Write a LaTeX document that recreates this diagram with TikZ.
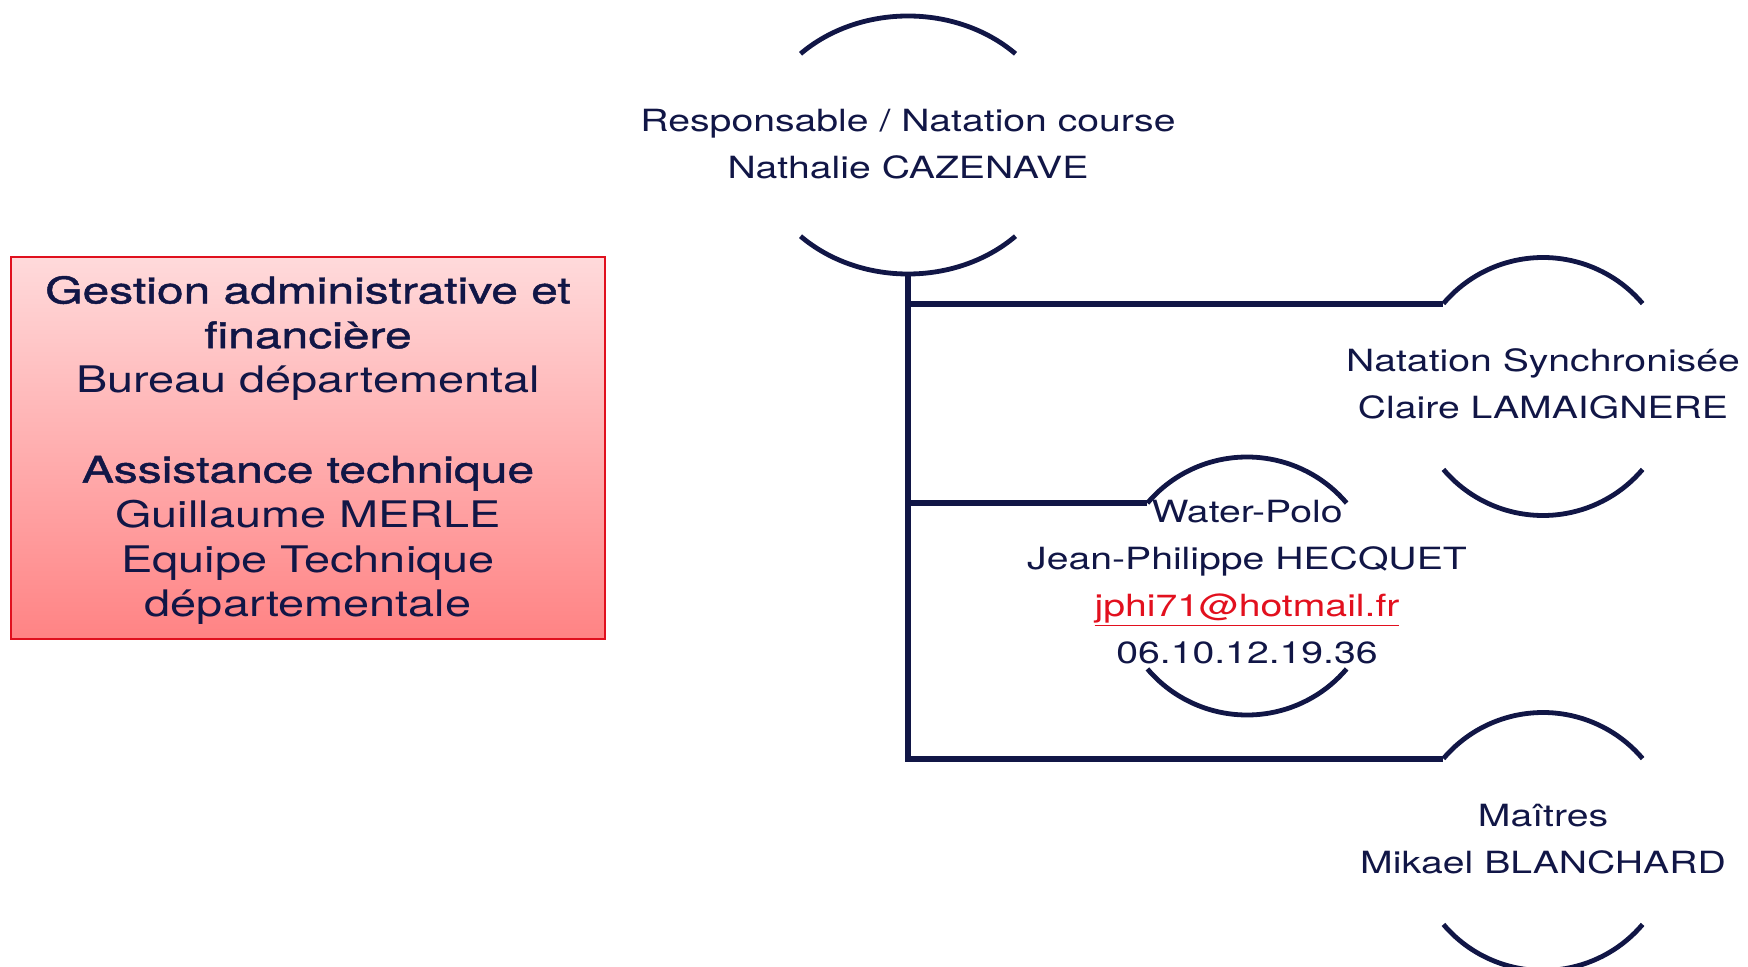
\documentclass[tikz,border=0pt]{standalone}
\usepackage{fontspec}
\setmainfont[FakeStretch=1.28]{TeX Gyre Heros}
\newfontfamily\medfont[FakeStretch=1.31,FakeBold=1.3]{TeX Gyre Heros}
\usetikzlibrary{calc}
\definecolor{navy}{HTML}{111646}
\definecolor{emred}{HTML}{E2101E}
\definecolor{boxtop}{HTML}{FFDADB}
\definecolor{boxbot}{HTML}{FF8384}
\definecolor{boxline}{HTML}{E0101E}
\begin{document}
\begin{tikzpicture}[x=0.5pt,y=0.5pt,
  lbl/.style={text=navy, align=center, font=\fontsize{15.3}{23.5}\selectfont, inner sep=0pt},
  boxtxt/.style={text=navy, align=center, font=\fontsize{18.3}{22.4}\selectfont, inner sep=0pt},
  arcline/.style={draw=navy, line width=2.4pt},
  conn/.style={draw=navy, line width=3pt},
]
\useasboundingbox (0,0) rectangle (1748,-967);

% box
\node[draw=boxline, line width=1pt, top color=boxtop, bottom color=boxbot,
      minimum width=297pt, minimum height=191pt, inner sep=0pt] (box) at (308,-448) {};
\node[boxtxt] (boxtext) at ($(box.center)+(0,-2.5)$) {{\medfont Gestion administrative et}\\{\medfont financière}\\Bureau départemental\\[22.4pt]{\medfont Assistance technique}\\Guillaume MERLE\\Equipe Technique\\départementale};

% top node
\coordinate (topC) at (908,-145);
\node[lbl] (top) at (908,-144) {Responsable / Natation course\\Nathalie CAZENAVE};
\draw[arcline] ($(topC)+(135:152 and 129)$) arc[start angle=135,end angle=45,x radius=152,y radius=129];
\draw[arcline] ($(topC)+(225:152 and 129)$) arc[start angle=225,end angle=315,x radius=152,y radius=129];
\coordinate (topB) at ($(topC)+(0,-129)$);

% children (circle centres and text)
\coordinate (syncC) at (1543,-386.5);
\coordinate (wpC) at (1247,-586);
\coordinate (maiC) at (1543,-841.5);
\node[lbl] (sync) at (1543,-384) {Natation Synchronisée\\Claire LAMAIGNERE};
\node[lbl] (wp) at (1247,-582) {Water-Polo\\Jean-Philippe HECQUET\\{\color{emred}\underline{jphi71@hotmail.fr}}\\06.10.12.19.36};
\node[lbl] (mai) at (1543,-839) {Maîtres\\Mikael BLANCHARD};

\foreach \n in {sync,wp,mai}{
  \draw[arcline] ($(\n C)+(140:130 and 129)$) arc[start angle=140,end angle=40,x radius=130,y radius=129];
  \draw[arcline] ($(\n C)+(220:130 and 129)$) arc[start angle=220,end angle=320,x radius=130,y radius=129];
  \coordinate (\n L) at ($(\n C)+(140:130 and 129)$);
}

% connectors
\draw[conn] (topB) |- (syncL);
\draw[conn] (topB) |- (wpL);
\draw[conn] (topB) |- (maiL);
\end{tikzpicture}
\end{document}
